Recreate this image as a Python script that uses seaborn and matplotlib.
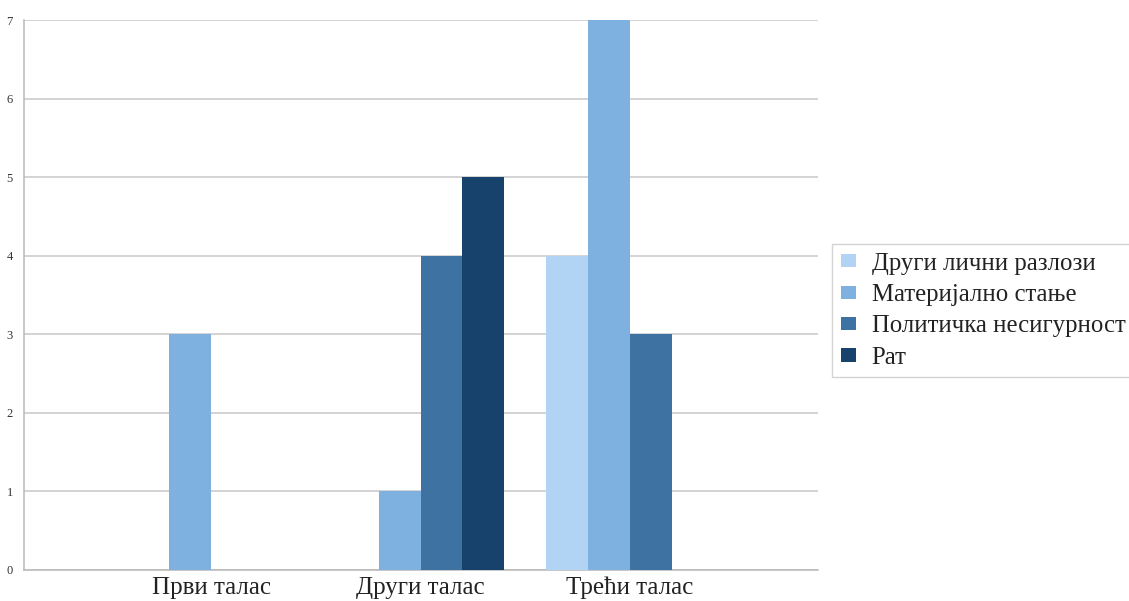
import matplotlib
matplotlib.use("Agg")
import matplotlib.pyplot as plt
import seaborn as sns
import pandas as pd

# Waves of emigration and the reasons given
waves = ["Први талас", "Други талас", "Трећи талас"]
reasons = ["Други лични разлози", "Материјално стање", "Политичка несигурност", "Рат"]
drugi_licni = [0, 0, 4]
materijalno = [3, 1, 7]
politicka = [0, 4, 3]
rat = [0, 5, 0]
y_ticks = [0, 1, 2, 3, 4, 5, 6, 7]

colors = ["#b2d4f4", "#7eb1df", "#3e72a3", "#17426b"]

rows = []
for reason, vals in zip(reasons, [drugi_licni, materijalno, politicka, rat]):
    for w, v in zip(waves, vals):
        rows.append({"wave": w, "reason": reason, "count": v})
df = pd.DataFrame(rows)

sns.set_theme(style="white")
plt.rcParams["font.family"] = ["Liberation Serif", "DejaVu Serif"]

fig = plt.figure(figsize=(11.29, 6.01), dpi=100)
ax = fig.add_axes([0.0213, 0.0516, 0.7032, 0.915])

sns.barplot(data=df, x="wave", y="count", hue="reason", order=waves,
            hue_order=reasons, palette=colors, width=0.8, saturation=1,
            edgecolor="none", linewidth=0, ax=ax, legend=True, zorder=3)

ax.set_ylim(0, 7)
ax.set_xlim(-0.893, 2.897)
ax.set_yticks(y_ticks)
ax.set_yticklabels([str(t) for t in y_ticks], fontsize=9, color="#333333")
ax.tick_params(axis="y", length=0, pad=8)
ax.tick_params(axis="x", length=0, pad=5, labelsize=18, labelcolor="#222222")
ax.set_xlabel("")
ax.set_ylabel("")
ax.yaxis.grid(True, color="#c8c8c8", linewidth=1.1, zorder=0)
ax.set_axisbelow(True)
for side in ["top", "right"]:
    ax.spines[side].set_visible(False)
for side in ["left", "bottom"]:
    ax.spines[side].set_color("#b8b8b8")
    ax.spines[side].set_linewidth(1.1)

handles, labels = ax.get_legend_handles_labels()
ax.get_legend().remove()
leg = fig.legend(handles, labels, loc="center left", bbox_to_anchor=(0.737, 0.483),
                 frameon=True, fancybox=False, fontsize=17.8, handlelength=0.6,
                 handleheight=0.45, handletextpad=0.65, labelspacing=0.38,
                 borderpad=0.35, borderaxespad=0)
leg.get_frame().set_edgecolor("#c8c8c8")
leg.get_frame().set_linewidth(1.0)
for t in leg.get_texts():
    t.set_color("#222222")

fig.savefig("out.png", dpi=100)
